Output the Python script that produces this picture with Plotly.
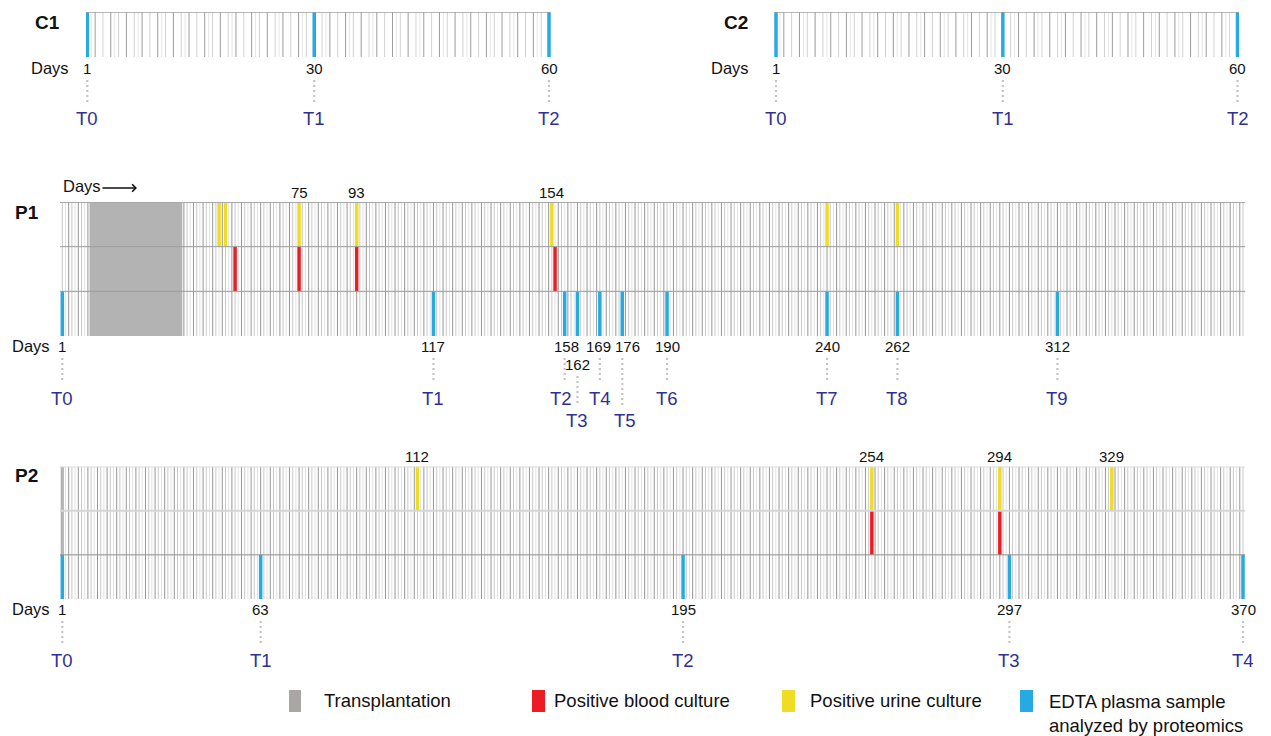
import plotly.graph_objects as go

W, H = 1271, 736
FONT = "Liberation Sans, Arial, Helvetica, sans-serif"

# ------------------------------------------------------------------ data
c1_span = (1, 60)
c1_samples = [1, 30, 60]
c1_sample_labels = ["T0", "T1", "T2"]

c2_span = (1, 60)
c2_samples = [1, 30, 60]
c2_sample_labels = ["T0", "T1", "T2"]

p1_span = (1, 370)
p1_transplant = (10, 38)
p1_urine = [50, 52, 75, 93, 154, 240, 262]
p1_blood = [55, 75, 93, 155]
p1_event_labels = [75, 93, 154]
p1_samples = [1, 117, 158, 162, 169, 176, 190, 240, 262, 312]
p1_sample_labels = ["T0", "T1", "T2", "T3", "T4", "T5", "T6", "T7", "T8", "T9"]

p2_span = (1, 370)
p2_transplant = (1, 1)
p2_urine = [112, 254, 294, 329]
p2_blood = [254, 294]
p2_event_labels = [112, 254, 294, 329]
p2_samples = [1, 63, 195, 297, 370]
p2_sample_labels = ["T0", "T1", "T2", "T3", "T4"]

legend_labels = ["Transplantation", "Positive blood culture",
                 "Positive urine culture",
                 "EDTA plasma sample<br>analyzed by proteomics"]

# ------------------------------------------------------------------ styles
BLUE = "#27aae1"
RED = "#ec1c24"
YELLOW = "#eedc25"
GREY_TX = "#b3b3b3"
GREY_LEG = "#aba6a6"
TCOL = "#2e3192"
DOTC = "#c4c4c4"
TXT = "#111111"

# the page body has an 8px margin: shift the drawing so it lands where intended
OFF = 8


def pyp(p):
    return 1 - (p - OFF) / H


def pxp(p):
    return (p - OFF) / W


def xrange_for(L, R, d0, p0, d1, p1):
    s = (p1 - p0) / (d1 - d0)
    return [d0 + (L - p0) / s, d0 + (R - p0) / s]


P_COLORS = ["#969696", "#c8c8c8", "#e2e2e2"]
C_COLORS = ["#9c9c9c", "#d2d2d2"]

panels = [
    dict(title="C1", tx=33, ty=22, days_x=71, span=c1_span, transplant=None,
         urine=[], blood=[], events=[], samples=c1_samples, slabels=c1_sample_labels,
         L=86, R=551, d0=1, p0=87.3, d1=60, p1=549, top=12, bot=57, rows=1,
         num_y=[68], t_y=[119], num_rows=None, t_rows=None, num_shift=None, t_shift=None,
         kind="C", hlines=[(0, "#a0a0a0", 1.5)]),
    dict(title="C2", tx=722, ty=22, days_x=751, span=c2_span, transplant=None,
         urine=[], blood=[], events=[], samples=c2_samples, slabels=c2_sample_labels,
         L=774, R=1239, d0=1, p0=776, d1=60, p1=1237.5, top=12, bot=57, rows=1,
         num_y=[68], t_y=[119], num_rows=None, t_rows=None, num_shift=None, t_shift=None,
         kind="C", hlines=[(0, "#a0a0a0", 1.5)]),
    dict(title="P1", tx=13, ty=212, days_x=52, span=p1_span, transplant=p1_transplant,
         trows=(0, 3),
         urine=p1_urine, blood=p1_blood, events=p1_event_labels, ev_y=192,
         samples=p1_samples, slabels=p1_sample_labels,
         L=60, R=1245, d0=1, p0=62.3, d1=370, p1=1243, top=202, bot=336, rows=3,
         num_y=[346, 364], t_y=[398, 420],
         num_rows=[0, 0, 0, 1, 0, 0, 0, 0, 0, 0],
         t_rows=[0, 0, 0, 1, 0, 1, 0, 0, 0, 0],
         num_shift=[0, 0, 2, 0, -1, 5, 0, 0, 0, 0],
         t_shift=[0, 0, -4, 0, 0, 3, 0, 0, 0, 0],
         kind="P", hlines=[(0, "#a8a8a8", 2), (1, "#9c9c9c", 1), (2, "#9c9c9c", 1)]),
    dict(title="P2", tx=13, ty=475, days_x=52, span=p2_span, transplant=p2_transplant,
         trows=(0, 2),
         urine=p2_urine, blood=p2_blood, events=p2_event_labels, ev_y=456,
         samples=p2_samples, slabels=p2_sample_labels,
         L=60, R=1245, d0=1, p0=62.3, d1=370, p1=1243, top=466.5, bot=599, rows=3,
         num_y=[609], t_y=[660], num_rows=None, t_rows=None, num_shift=None, t_shift=None,
         kind="P", hlines=[(0, "#dcdcdc", 2), (1, "#d6d6d6", 2), (2, "#8e8e8e", 1)]),
]

fig = go.Figure()
lay = {}
shapes = []
ann = []


def vlines(days, y0, y1):
    xs, ys = [], []
    for d in days:
        xs += [d, d, None]
        ys += [y0, y1, None]
    return xs, ys


for i, P in enumerate(panels):
    n = "" if i == 0 else str(i + 1)
    xa, ya = "x" + n, "y" + n
    lay["xaxis" + n] = dict(domain=[pxp(P["L"]), pxp(P["R"])],
                            range=xrange_for(P["L"], P["R"], P["d0"], P["p0"], P["d1"], P["p1"]),
                            anchor=ya, visible=False, fixedrange=True)
    lay["yaxis" + n] = dict(domain=[pyp(P["bot"]), pyp(P["top"])], range=[P["rows"], 0],
                            anchor=xa, visible=False, fixedrange=True)
    rows = P["rows"]
    d_start, d_end = P["span"]

    # day grid lines
    groups = {}
    for d in range(d_start, d_end + 1):
        if P["kind"] == "P":
            c = P_COLORS[d % 3]
        else:
            c = C_COLORS[d % 2]
        groups.setdefault(c, []).append(d)
    if P["kind"] == "C":
        groups["#e6e6e6"] = [d + 0.5 for d in range(d_start, d_end) if d % 3 == 1]
    for c, ds in sorted(groups.items(), key=lambda kv: kv[0], reverse=True):
        xs, ys = vlines(ds, 0, rows)
        fig.add_trace(go.Scatter(x=xs, y=ys, mode="lines", xaxis=xa, yaxis=ya,
                                 line=dict(color=c, width=1), hoverinfo="skip",
                                 showlegend=False))

    # horizontal row lines
    for (yv, col, wd) in P["hlines"]:
        shapes.append(dict(type="line", xref=xa + " domain", yref=ya, x0=0, x1=1,
                           y0=yv, y1=yv, line=dict(color=col, width=wd), layer="above"))

    # transplantation
    if P["transplant"] is not None:
        s, e = P["transplant"]
        r0, r1 = P["trows"]
        fig.add_trace(go.Scatter(x=[s - 0.5, e + 0.5, e + 0.5, s - 0.5, s - 0.5],
                                 y=[r0, r0, r1, r1, r0], mode="lines", fill="toself",
                                 fillcolor=GREY_TX, line=dict(width=0, color=GREY_TX),
                                 xaxis=xa, yaxis=ya, hoverinfo="skip", showlegend=False))

    # urine (row 0), blood (row 1), samples (last row)
    for days, row, col in [(P["urine"], 0, YELLOW), (P["blood"], 1, RED),
                           (P["samples"], rows - 1, BLUE)]:
        if not days:
            continue
        y0 = row if P["kind"] == "P" else 0
        xs, ys = vlines(days, y0, y0 + 1)
        fig.add_trace(go.Scatter(x=xs, y=ys, mode="lines", xaxis=xa, yaxis=ya,
                                 line=dict(color=col, width=3.5), hoverinfo="skip",
                                 showlegend=False))

    # event labels above the box
    for d in P["events"]:
        ann.append(dict(x=d, y=pyp(P["ev_y"]), xref=xa, yref="paper", text=str(d),
                        showarrow=False, font=dict(size=15, color=TXT, family=FONT),
                        xanchor="center", yanchor="middle"))

    # panel title
    ann.append(dict(x=pxp(P["tx"]), y=pyp(P["ty"]), xref="paper", yref="paper",
                    text="<b>%s</b>" % P["title"], showarrow=False,
                    font=dict(size=19, color=TXT, family=FONT),
                    xanchor="left", yanchor="middle"))
    # "Days" label
    ann.append(dict(x=pxp(P["days_x"]), y=pyp(P["num_y"][0]), xref="paper", yref="paper",
                    text="Days", showarrow=False,
                    font=dict(size=16.5, color=TXT, family=FONT),
                    xanchor="right", yanchor="middle"))

    # sample day numbers, dotted connectors, time-point labels
    for k, (d, lab) in enumerate(zip(P["samples"], P["slabels"])):
        nr = P["num_rows"][k] if P["num_rows"] else 0
        tr = P["t_rows"][k] if P["t_rows"] else 0
        nsh = P["num_shift"][k] if P["num_shift"] else 0
        tsh = P["t_shift"][k] if P["t_shift"] else 0
        ny = P["num_y"][nr]
        ty = P["t_y"][tr]
        ann.append(dict(x=d, y=pyp(ny), xref=xa, yref="paper", text=str(d),
                        showarrow=False, font=dict(size=15, color=TXT, family=FONT),
                        xanchor="center", yanchor="middle", xshift=nsh))
        shapes.append(dict(type="line", xref=xa, yref="paper", x0=d, x1=d,
                           y0=pyp(ny + 12), y1=pyp(ty - 15),
                           line=dict(color=DOTC, width=2.2, dash="2px,3px")))
        ann.append(dict(x=d, y=pyp(ty), xref=xa, yref="paper", text=lab,
                        showarrow=False, font=dict(size=18.5, color=TCOL, family=FONT),
                        xanchor="center", yanchor="middle", xshift=tsh))

# "Days ->" above P1
ann.append(dict(x=pxp(61), y=pyp(186), xref="paper", yref="paper", text="Days",
                showarrow=False, font=dict(size=16.5, color=TXT, family=FONT),
                xanchor="left", yanchor="middle"))
ann.append(dict(x=pxp(137), y=pyp(188), xref="paper", yref="paper", text="",
                showarrow=True, ax=-36, ay=0, arrowhead=4, arrowsize=1.1,
                arrowwidth=1.3, arrowcolor=TXT))

# legend (manual)
leg_items = [(289, 301, 322, GREY_LEG), (532, 545, 552, RED),
             (782, 795, 808, YELLOW), (1020, 1033, 1047, BLUE)]
for (x0, x1, tx, col), lab in zip(leg_items, legend_labels):
    shapes.append(dict(type="rect", xref="paper", yref="paper",
                       x0=pxp(x0), x1=pxp(x1), y0=pyp(712), y1=pyp(690),
                       fillcolor=col, line=dict(width=0)))
    multi = "<br>" in lab
    ann.append(dict(x=pxp(tx), y=pyp(689 if multi else 700), xref="paper", yref="paper",
                    text=lab, showarrow=False, align="left",
                    font=dict(size=18.5, color=TXT, family=FONT),
                    xanchor="left", yanchor="top" if multi else "middle"))

fig.update_layout(width=W, height=H, margin=dict(l=0, r=0, t=0, b=0),
                  paper_bgcolor="white", plot_bgcolor="rgba(0,0,0,0)",
                  showlegend=False, shapes=shapes, annotations=ann,
                  font=dict(family=FONT), **lay)

fig.write_html("out.html")
